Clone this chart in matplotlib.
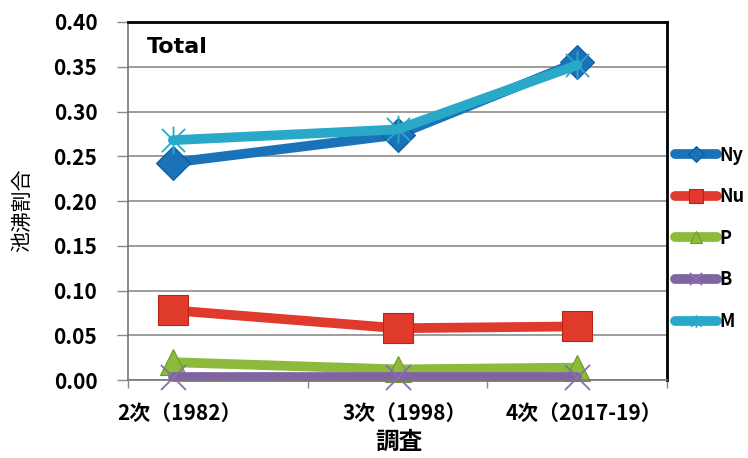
import numpy as np
import matplotlib
matplotlib.use("Agg")
import matplotlib.pyplot as plt
from matplotlib.path import Path

plt.rcParams['font.family'] = ['Noto Sans CJK JP', 'DejaVu Sans']

# survey position (scatter x) and labels
survey_x = [1, 6, 10]
survey_labels = ['2次（1982）', '3次（1998）', '4次（2017-19）']

ny = [0.243, 0.274, 0.355]
nu = [0.078, 0.058, 0.060]
p = [0.020, 0.012, 0.014]
b = [0.004, 0.004, 0.004]
m = [0.268, 0.280, 0.352]

# Excel-like star marker: an x with a vertical bar
star = Path([(-1, -1), (1, 1), (-1, 1), (1, -1), (0, -1.2), (0, 1.2)],
            [Path.MOVETO, Path.LINETO, Path.MOVETO, Path.LINETO,
             Path.MOVETO, Path.LINETO])

series = [
    ('Ny', ny, '#1a72b8', 'D', 17, '#0f5a96'),
    ('Nu', nu, '#e03a2c', 's', 21, '#b8231a'),
    ('P', p, '#8cbb3c', '^', 19, '#6f9a2a'),
    ('B', b, '#8064a2', 'x', 18, '#8a6fb0'),
    ('M', m, '#29a9c7', star, 20, '#29a9c7'),
]

fig = plt.figure(figsize=(7.48, 4.58), dpi=100)
ax = fig.add_axes([0.171, 0.170, 0.721, 0.782])

for name, vals, col, mk, ms, edge in series:
    thin = mk == 'x' or isinstance(mk, Path)
    ax.plot(survey_x, vals, color=col, lw=7, marker=mk, ms=ms,
            mfc=col, mec=edge, mew=1.3 if thin else 0.8,
            label=name, solid_capstyle='round', solid_joinstyle='round',
            clip_on=False)

ax.set_xlim(0, 12)
ax.set_ylim(0, 0.40)
ax.set_yticks(np.arange(0, 0.401, 0.05))
ax.set_yticklabels([f'{v:.2f}' for v in np.arange(0, 0.401, 0.05)],
                   fontsize=15, fontweight='bold')
ax.set_xticks([0, 4, 8, 12])
ax.set_xticklabels([])
ax.tick_params(axis='y', length=8, color='#888888', width=1, pad=14)
ax.tick_params(axis='x', length=6, color='#888888', width=1)
ax.yaxis.grid(True, color='#8c8c8c', lw=1.2)
ax.set_axisbelow(True)

for x, lab in zip(survey_x, survey_labels):
    ax.text(x + 0.15, -0.025, lab, ha='center', va='top', fontsize=15,
            fontweight='bold', transform=ax.transData)

for s in ['left', 'bottom']:
    ax.spines[s].set_color('#777777')
    ax.spines[s].set_linewidth(1.2)
for s in ['top', 'right']:
    ax.spines[s].set_color('black')
    ax.spines[s].set_linewidth(2)

ax.text(0.035, 0.93, 'Total', transform=ax.transAxes, fontsize=16,
        fontweight='bold', va='center', family=['DejaVu Sans'])

fig.text(0.533, 0.035, '調査', ha='center', va='center', fontsize=17,
         fontweight='bold')
fig.text(0.030, 0.54, '池沸割合', ha='center', va='center', fontsize=15,
         rotation=90)

leg = fig.legend(loc='upper left', bbox_to_anchor=(0.903, 0.682),
                 frameon=False, fontsize=13, markerscale=0.45,
                 handlelength=2.3, handletextpad=0.15, labelspacing=1.25,
                 borderpad=0, borderaxespad=0)
for t in leg.get_texts():
    t.set_fontweight('bold')

fig.savefig('out.png', dpi=100)
